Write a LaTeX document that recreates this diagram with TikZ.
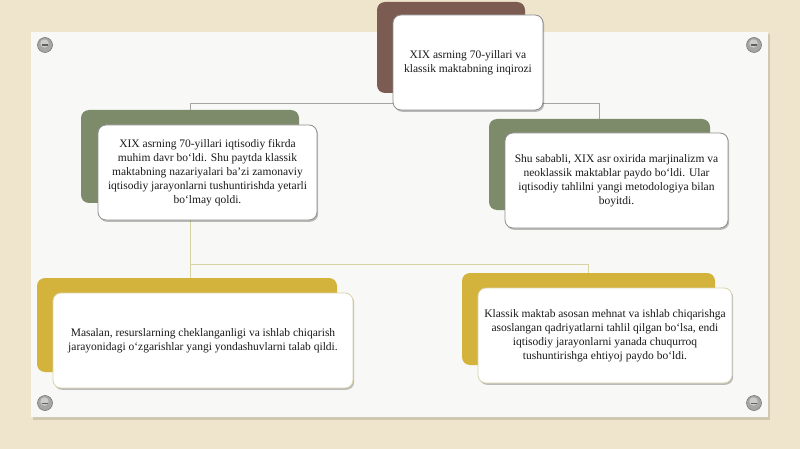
\documentclass[tikz,border=0pt]{standalone}
\usepackage{fontspec}
\setmainfont{Liberation Serif}
\usetikzlibrary{shadows}
\definecolor{bgbeige}{HTML}{EFE4CC}
\definecolor{panel}{HTML}{F8F8F6}
\definecolor{brownc}{HTML}{7B5B52}
\definecolor{greenc}{HTML}{7E8B6A}
\definecolor{goldc}{HTML}{D3B33C}
\definecolor{connA}{HTML}{A4A4A4}
\definecolor{connB}{HTML}{D8D3A4}
\definecolor{frameA}{HTML}{8E8E8E}
\definecolor{frameB}{HTML}{D9D4AE}
\definecolor{txt}{HTML}{1A1A1A}
\tikzset{
  backbox/.style={rounded corners=8pt, inner sep=0pt, minimum width=#1},
  frontbox/.style={rounded corners=8pt, fill=white, draw=frameA, line width=0.8pt,
    inner sep=0pt, align=center, text=txt, font=\fontsize{11.5}{14}\selectfont,
    drop shadow={shadow xshift=1.2pt, shadow yshift=-1.8pt, opacity=0.25, fill=black}},
  connup/.style={draw=connA, line width=0.8pt},
  conndown/.style={draw=connB, line width=1pt},
  screw/.style={fill=gray!70, draw=gray!85!black, line width=0.5pt}
}
\begin{document}
\begin{tikzpicture}[x=1pt,y=-1pt]
\useasboundingbox (0,0) rectangle (800,449);
\fill[bgbeige] (0,0) rectangle (800,449);
% panel
\fill[black, opacity=0.12] (33,34) rectangle (770,420);
\fill[panel] (31,32) rectangle (768,417);
% screws
\foreach \sx/\sy in {45/45, 754/45, 45/403, 754/403}{
  \fill[screw] (\sx,\sy) circle (7.5);
  \fill[gray!40] (\sx-0.5,\sy-1.5) circle (4.2);
  \fill[gray!75!black] (\sx-3,\sy-0.5) rectangle (\sx+3,\sy+1);
}
% back boxes
\node[backbox=148pt, minimum height=91pt, fill=brownc] (tb) at (451,47.5) {};
\node[backbox=218pt, minimum height=93pt, fill=greenc] (mlb) at (190,156.5) {};
\node[backbox=221pt, minimum height=91pt, fill=greenc] (mrb) at (599.5,164.5) {};
\node[backbox=300pt, minimum height=94pt, fill=goldc] (blb) at (187,325) {};
\node[backbox=253pt, minimum height=92pt, fill=goldc] (brb) at (588.5,319) {};
% connectors
\coordinate (j1) at (451,103);
\coordinate (j2) at (190,264);
\draw[connup] (j1) -| (mlb.north);
\draw[connup] (j1) -| (mrb.north);
\draw[conndown] (mlb.south) |- (j2) -| (brb.north);
\draw[conndown] (j2) -- (j2 |- blb.north);
% front boxes
\node[frontbox, minimum width=150pt, minimum height=95pt] (tf) at (468,62.5)
  {XIX asrning 70-yillari va\\klassik maktabning inqirozi};
\node[frontbox, minimum width=219pt, minimum height=95pt] (mlf) at (207.5,172.5)
  {XIX asrning 70-yillari iqtisodiy fikrda\\muhim davr bo‘ldi. Shu paytda klassik\\maktabning nazariyalari ba’zi zamonaviy\\iqtisodiy jarayonlarni tushuntirishda yetarli\\bo‘lmay qoldi.};
\node[frontbox, minimum width=223pt, minimum height=95pt] (mrf) at (616.5,180.5)
  {Shu sababli, XIX asr oxirida marjinalizm va\\neoklassik maktablar paydo bo‘ldi. Ular\\iqtisodiy tahlilni yangi metodologiya bilan\\boyitdi.};
\node[frontbox, draw=frameB, minimum width=300pt, minimum height=95pt] (blf) at (203,340.5)
  {Masalan, resurslarning cheklanganligi va ishlab chiqarish\\jarayonidagi o‘zgarishlar yangi yondashuvlarni talab qildi.};
\node[frontbox, draw=frameB, minimum width=254pt, minimum height=95pt] (brf) at (605,335.5)
  {Klassik maktab asosan mehnat va ishlab chiqarishga\\asoslangan qadriyatlarni tahlil qilgan bo‘lsa, endi\\iqtisodiy jarayonlarni yanada chuqurroq\\tushuntirishga ehtiyoj paydo bo‘ldi.};
\end{tikzpicture}
\end{document}
